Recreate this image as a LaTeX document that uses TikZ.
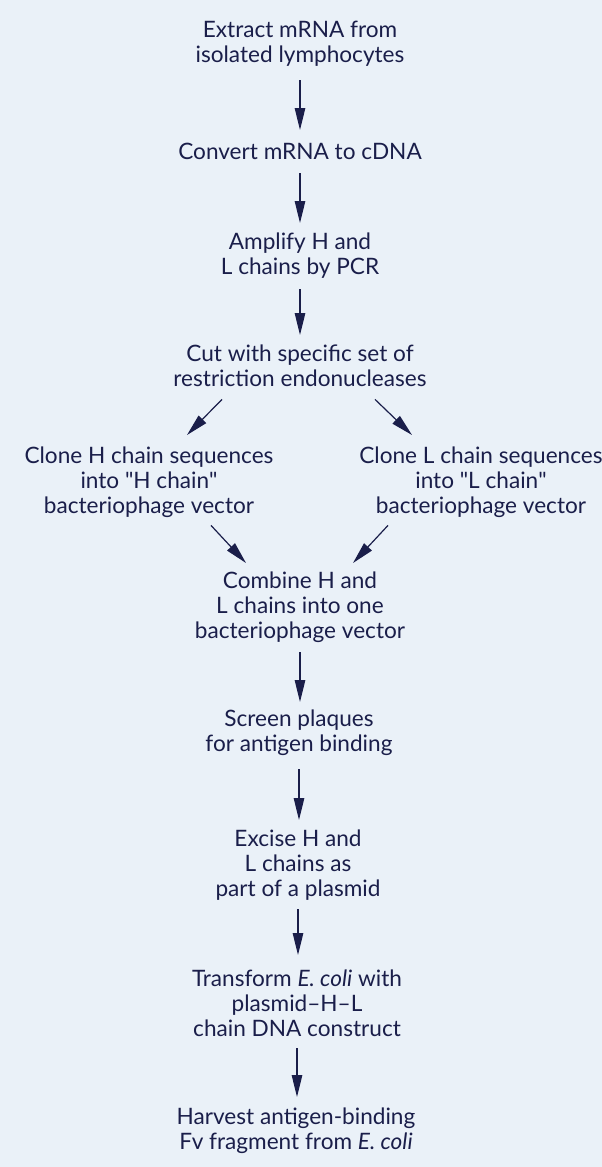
\documentclass[tikz,border=0pt]{standalone}
\usepackage{fontspec}
\setmainfont{Lato}
\newfontfamily\plainqfont{Lato}
\usetikzlibrary{arrows.meta,calc}
\definecolor{bgblue}{HTML}{EAF1F8}
\definecolor{ink}{HTML}{1A1E4A}
\newcommand{\myfirstl}{\rule{0pt}{18pt}}
\newcommand{\mylastl}{\rule[-6pt]{0pt}{6pt}}
\newcommand{\sq}{{\plainqfont\char"22\relax}}
\tikzset{
  stepnode/.style={anchor=north, inner sep=0pt, align=center, text=ink,
    font=\fontsize{22.6}{25}\selectfont},
  arr/.style={draw=ink, line width=1.2pt, -{Triangle[length=22pt,width=10.5pt]}}
}
\begin{document}
\begin{tikzpicture}[x=1pt,y=-1pt]
\useasboundingbox (0,0) rectangle (602,1167);
\fill[bgblue] (0,0) rectangle (602,1167);
\node[stepnode] (extract) at (300,19) {\myfirstl Extract mRNA from\\isolated lymphocytes\mylastl};
\node[stepnode] (convert) at (300,141) {\myfirstl Convert mRNA to cDNA\mylastl};
\node[stepnode] (amplify) at (300,231) {\myfirstl Amplify H and\\L chains by PCR\mylastl};
\node[stepnode] (cut) at (300,343) {\myfirstl Cut with specific set of\\restriction endonucleases\mylastl};
\node[stepnode] (cloneH) at (149,445) {\myfirstl Clone H chain sequences\\into \sq H chain\sq\\bacteriophage vector\mylastl};
\node[stepnode] (cloneL) at (481,445) {\myfirstl Clone L chain sequences\\into \sq L chain\sq\\bacteriophage vector\mylastl};
\node[stepnode] (combine) at (300,570) {\myfirstl Combine H and\\L chains into one\\bacteriophage vector\mylastl};
\node[stepnode] (screen) at (299,708) {\myfirstl Screen plaques\\for antigen binding\mylastl};
\node[stepnode] (excise) at (298,828) {\myfirstl Excise H and\\L chains as\\part of a plasmid\mylastl};
\node[stepnode] (transform) at (297,968) {\myfirstl Transform \textit{E. coli} with\\plasmid--H--L\\chain DNA construct\mylastl};
\node[stepnode] (harvest) at (296,1106) {\myfirstl Harvest antigen-binding\\Fv fragment from \textit{E. coli}\mylastl};

\draw[arr, shorten <=12pt, shorten >=11pt] (extract.south) -- (extract.south |- convert.north);
\draw[arr, shorten <=8pt, shorten >=8pt] (convert.south) -- (convert.south |- amplify.north);
\draw[arr, shorten <=9pt, shorten >=8pt] (amplify.south) -- (amplify.south |- cut.north);
\draw[arr] ([shift={(-78,7)}]cut.south) -- ([shift={(38,-10)}]cloneH.north);
\draw[arr] ([shift={(75,7)}]cut.south) -- ([shift={(-69,-10)}]cloneL.north);
\draw[arr] ([shift={(62,6)}]cloneH.south) -- ([shift={(-54,-7)}]combine.north);
\draw[arr] ([shift={(-93,6)}]cloneL.south) -- ([shift={(53,-7)}]combine.north);
\draw[arr, shorten <=8pt, shorten >=6pt] (combine.south) -- (combine.south |- screen.north);
\draw[arr, shorten <=12pt, shorten >=8pt] (screen.south) -- (screen.south |- excise.north);
\draw[arr, shorten <=7pt, shorten >=13pt] (excise.south) -- (excise.south |- transform.north);
\draw[arr, shorten <=6pt, shorten >=9pt] (transform.south) -- (transform.south |- harvest.north);
\end{tikzpicture}
\end{document}
